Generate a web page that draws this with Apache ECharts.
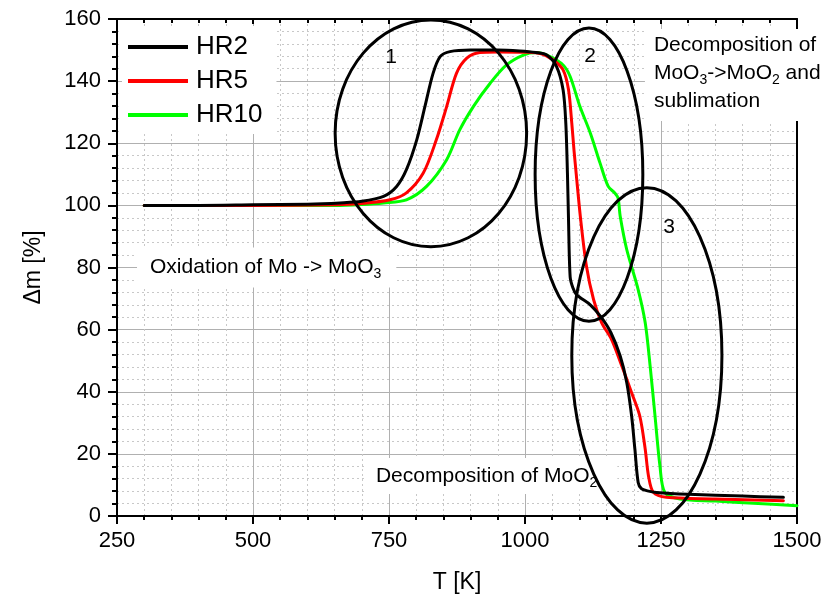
<!DOCTYPE html>
<html><head><meta charset="utf-8">
<script src="https://cdn.jsdelivr.net/npm/echarts@6/dist/echarts.min.js"></script>
<style>html,body{margin:0;padding:0;background:#fff}#c{width:828px;height:599px}</style>
</head><body><div id="c"></div>
<script>
const FONT = "'Liberation Sans', Arial, sans-serif";

// axis ticks
const xTicks = [250, 500, 750, 1000, 1250, 1500];
const yTicks = [0, 20, 40, 60, 80, 100, 120, 140, 160];
const seriesNames = ['HR2', 'HR5', 'HR10'];
const seriesColors = ['#000000', '#ff0000', '#00ff00'];

// HR2
const hr2T = [300, 400, 500, 600, 660, 700, 740, 764, 782, 801, 816, 831, 844, 862, 900, 950, 990, 1020, 1040, 1058, 1070, 1075, 1078, 1080, 1083, 1088, 1095, 1120, 1140, 1158, 1175, 1187, 1196, 1202, 1208, 1214, 1225, 1242, 1300, 1400, 1475];
const hr2M = [100, 100, 100.2, 100.4, 100.8, 101.3, 102.9, 106.1, 111.5, 121.1, 131.8, 142.5, 147.9, 149.5, 150, 150, 149.7, 149.2, 148.4, 144.7, 137.2, 126.5, 110.4, 95.4, 77, 73.5, 71.2, 68, 64, 59, 51.5, 43, 32.2, 21.5, 10.8, 8.8, 8.1, 7.6, 7.0, 6.4, 6.0];
// HR5
const hr5T = [300, 500, 650, 700, 752, 782, 813, 837, 856, 874, 893, 917, 950, 1000, 1030, 1052, 1070, 1080, 1086, 1090, 1094, 1102, 1113, 1126, 1141, 1159, 1178, 1196, 1211, 1221, 1227, 1236, 1260, 1350, 1475];
const hr5M = [100, 100, 100.2, 100.6, 101.8, 104, 110.4, 121.1, 131.8, 142.5, 147.4, 149.2, 149.4, 149.3, 148.8, 146.8, 143.6, 137.2, 126.5, 117.9, 110.4, 96, 80.4, 69.7, 62.2, 56.9, 48.3, 39.7, 32.2, 21.5, 12.9, 7.6, 6.0, 5.5, 4.9];
// HR10
const hr10T = [300, 500, 650, 700, 740, 782, 819, 856, 880, 905, 936, 966, 997, 1021, 1046, 1070, 1083, 1101, 1120, 1138, 1153, 1165, 1171, 1175, 1187, 1208, 1221, 1230, 1239, 1248, 1257, 1285, 1350, 1420, 1500];
const hr10M = [100, 100, 100, 100.3, 100.8, 101.8, 106.1, 114.7, 124.3, 131.8, 139.3, 145.2, 148.4, 149.2, 147.9, 145.2, 141.5, 131.8, 123.3, 113.6, 106.1, 104, 102.4, 96.5, 85.8, 72.9, 62.2, 48.3, 32.2, 16.2, 7.6, 5.5, 4.8, 4.1, 3.3];

const seriesT = [hr2T, hr5T, hr10T];
const seriesM = [hr2M, hr5M, hr10M];

// annotation ellipses in data units: [centerT, centerM, radiusT, radiusM]
const ellipses = [[827, 123.2, 176, 36.5], [1117.6, 109.9, 99, 47.2], [1224, 51.7, 138, 54]];
const ellipseLabels = ['1', '2', '3'];
const ellipseLabelPos = [[753.7, 147.8], [1119.5, 148.1], [1264.7, 92.9]];

const chart = echarts.init(document.getElementById('c'), null, {renderer: 'canvas'});

const option = {
  backgroundColor: '#fff',
  animation: false,
  grid: {left: 117, right: 31, top: 19, bottom: 82, containLabel: false},
  legend: {
    data: seriesNames, orient: 'vertical', left: 122, top: 26,
    icon: 'rect', itemWidth: 60, itemHeight: 4, itemGap: 8,
    backgroundColor: '#fff', padding: [8, 14, 6, 6],
    textStyle: {fontFamily: FONT, fontSize: 26, color: '#000', lineHeight: 24, padding: [0, 0, 0, 3]}
  },
  xAxis: [{
    type: 'value', min: xTicks[0], max: xTicks[xTicks.length - 1], interval: xTicks[1] - xTicks[0],
    position: 'bottom',
    name: 'T [K]', nameLocation: 'middle', nameGap: 55,
    nameTextStyle: {fontFamily: FONT, fontSize: 23, color: '#000'},
    axisLine: {show: true, onZero: false, lineStyle: {color: '#000', width: 2}},
    axisTick: {show: true, inside: false, length: 8, lineStyle: {color: '#000', width: 2}},
    minorTick: {show: true, splitNumber: 5, length: 4, lineStyle: {color: '#000', width: 2}},
    axisLabel: {fontFamily: FONT, fontSize: 22, color: '#000', margin: 14, formatter: v => String(v)},
    splitLine: {show: true, lineStyle: {color: '#b0b0b0', width: 1}},
    minorSplitLine: {show: true, lineStyle: {color: '#c8c8c8', width: 1, type: [2, 3]}}
  }, {
    type: 'value', min: xTicks[0], max: xTicks[xTicks.length - 1], interval: xTicks[1] - xTicks[0],
    position: 'top',
    axisLine: {show: true, onZero: false, lineStyle: {color: '#000', width: 2}},
    axisTick: {show: true, inside: true, length: 5, lineStyle: {color: '#000', width: 2}},
    minorTick: {show: true, splitNumber: 5, length: 4, lineStyle: {color: '#000', width: 2}},
    axisLabel: {show: false}, splitLine: {show: false}
  }],
  yAxis: [{
    type: 'value', min: yTicks[0], max: yTicks[yTicks.length - 1], interval: yTicks[1] - yTicks[0],
    position: 'left',
    name: 'Δm [%]', nameLocation: 'middle', nameGap: 72, nameRotate: 90,
    nameTextStyle: {fontFamily: FONT, fontSize: 23, color: '#000'},
    axisLine: {show: true, onZero: false, lineStyle: {color: '#000', width: 2}},
    axisTick: {show: true, inside: false, length: 9, lineStyle: {color: '#000', width: 2}},
    minorTick: {show: true, splitNumber: 5, length: 5, lineStyle: {color: '#000', width: 2}},
    axisLabel: {fontFamily: FONT, fontSize: 22, color: '#000', margin: 16, formatter: v => String(v)},
    splitLine: {show: true, lineStyle: {color: '#b0b0b0', width: 1}},
    minorSplitLine: {show: true, lineStyle: {color: '#c8c8c8', width: 1, type: [2, 3]}}
  }, {
    type: 'value', min: yTicks[0], max: yTicks[yTicks.length - 1], interval: yTicks[1] - yTicks[0],
    position: 'right',
    axisLine: {show: true, onZero: false, lineStyle: {color: '#000', width: 2}},
    axisTick: {show: false}, axisLabel: {show: false}, splitLine: {show: false}
  }],
  series: seriesNames.map((name, i) => ({
    name, type: 'line', xAxisIndex: 0, yAxisIndex: 0,
    data: seriesT[i].map((t, j) => [t, seriesM[i][j]]),
    showSymbol: false, smooth: 0.3,
    lineStyle: {color: seriesColors[i], width: 3, join: 'round', cap: 'round'},
    itemStyle: {color: seriesColors[i]},
    z: 3 + (2 - i)
  }))
};
option.series.reverse();
chart.setOption(option);

function px(t, v) { return chart.convertToPixel({xAxisIndex: 0, yAxisIndex: 0}, [t, v]); }

const graphics = [];
const rich = {
  n: {fontFamily: FONT, fontSize: 21, lineHeight: 28, fill: '#000'},
  s: {fontFamily: FONT, fontSize: 14, lineHeight: 8, verticalAlign: 'bottom', fill: '#000'}
};
function textBox(t, v, text, padding) {
  const p = px(t, v);
  graphics.push({
    type: 'text', z: 1, zlevel: 0,
    x: p[0] - padding[3], y: p[1] - 14 - padding[0],
    style: {
      text, rich, font: '21px ' + FONT, fill: '#000',
      backgroundColor: '#fff', padding, align: 'left', verticalAlign: 'top'
    }
  });
}
textBox(310.7, 80, '{n|Oxidation of Mo -> MoO}{s|3}', [6, 15, 6, 13]);
textBox(726, 12.9, '{n|Decomposition of MoO}{s|2}', [4, 20, 4, 11]);
textBox(1237, 151.6, '{n|Decomposition of}\n{n|MoO}{s|3}{n|->MoO}{s|2}{n| and}\n{n|sublimation}', [2, 8, 6, 9]);

ellipses.forEach((e, i) => {
  const c = px(e[0], e[1]);
  const r = px(e[0] + e[2], e[1] - e[3]);
  graphics.push({
    type: 'ellipse', z: 10, zlevel: 0,
    shape: {cx: c[0], cy: c[1], rx: r[0] - c[0], ry: r[1] - c[1]},
    style: {fill: 'none', stroke: '#000', lineWidth: 3}
  });
  const lp = px(ellipseLabelPos[i][0], ellipseLabelPos[i][1]);
  graphics.push({
    type: 'text', z: 10, x: lp[0], y: lp[1],
    style: {text: ellipseLabels[i], font: '21px ' + FONT, fill: '#000', align: 'center', verticalAlign: 'middle'}
  });
});
chart.setOption({graphic: graphics});
</script></body></html>
